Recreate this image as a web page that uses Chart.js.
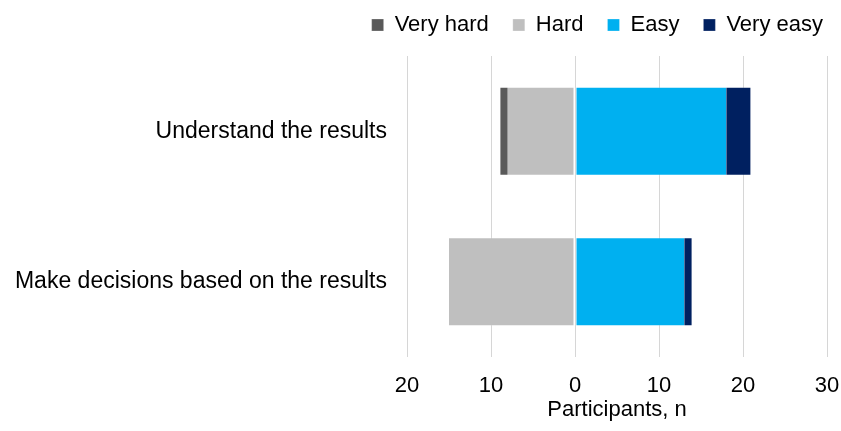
<!DOCTYPE html>
<html>
<head>
<meta charset="utf-8">
<script src="https://cdn.jsdelivr.net/npm/chart.js@4/dist/chart.umd.min.js"></script>
<style>
  html, body { margin: 0; padding: 0; background: #fff; }
  #wrap { width: 841px; height: 431px; }
</style>
</head>
<body>
<div id="wrap"><canvas id="chart" width="841" height="431"></canvas></div>
<script>
"use strict";

// ----- data ---------------------------------------------------------------- //
const CATEGORIES = ["Understand the results", "Make decisions based on the results"];
const VERY_HARD = [1, 0];
const HARD      = [8, 15];
const EASY      = [18, 13];
const VERY_EASY = [3, 1];

const LEGEND_ORDER = ["Very hard", "Hard", "Easy", "Very easy"];

const COLORS = {
  "Very hard": "#595959",
  "Hard":      "#bfbfbf",
  "Easy":      "#00b0f0",
  "Very easy": "#002060",
};

const FONT = "'Liberation Sans', Arial, Helvetica, sans-serif";

// negative side stacks outward from zero: Hard first, then Very hard.
// inner segments drop the outline on their outer edge, outer ones on the inner edge
function series(label, values, sign, skip) {
  return {
    label,
    data: values.map(v => sign * v),
    backgroundColor: COLORS[label],
    borderColor: "rgba(255,255,255,0.25)",
    borderWidth: 1,
    borderSkipped: skip,
    categoryPercentage: 0.8,
    barPercentage: 0.74,
  };
}

const datasets = [
  series("Hard", HARD, -1, "end"),
  series("Very hard", VERY_HARD, -1, "start"),
  series("Easy", EASY, 1, "end"),
  series("Very easy", VERY_EASY, 1, "start"),
];

new Chart(document.getElementById("chart"), {
  type: "bar",
  data: { labels: CATEGORIES, datasets },
  options: {
    indexAxis: "y",
    responsive: false,
    devicePixelRatio: 1,
    animation: false,
    layout: { padding: { top: -10, right: -6, bottom: 4, left: 0 } },
    plugins: {
      tooltip: { enabled: false },
      legend: {
        position: "top",
        align: "end",
        labels: {
          boxWidth: 12,
          boxHeight: 12,
          padding: 24,
          color: "#000",
          font: { family: FONT, size: 22 },
          sort: (a, b) => LEGEND_ORDER.indexOf(a.text) - LEGEND_ORDER.indexOf(b.text),
        },
      },
    },
    scales: {
      x: {
        stacked: true,
        min: -20,
        max: 30,
        ticks: {
          stepSize: 10,
          padding: 16,
          color: "#000",
          font: { family: FONT, size: 22 },
          callback: v => Math.abs(v),
        },
        grid: { color: "#d6d6d6", lineWidth: 1, drawTicks: false },
        border: { display: false },
        title: {
          display: true,
          text: "Participants, n",
          color: "#000",
          font: { family: FONT, size: 22 },
          padding: { top: 0, bottom: 4 },
        },
        afterFit: scale => {
          scale.height = 70;
          scale.paddingRight = 14;
        },
      },
      // empty spacer between the legend and the plot
      xGap: {
        type: "linear",
        position: "top",
        ticks: { display: false },
        grid: { display: false, drawTicks: false },
        border: { display: false },
        afterFit: scale => { scale.height = 10; },
      },
      y: {
        stacked: true,
        ticks: {
          padding: 20,
          color: "#000",
          font: { family: FONT, size: 23 },
        },
        grid: { display: false, drawTicks: false },
        border: { display: false },
        afterFit: scale => { scale.width = 407; },
      },
    },
  },
});
</script>
</body>
</html>
